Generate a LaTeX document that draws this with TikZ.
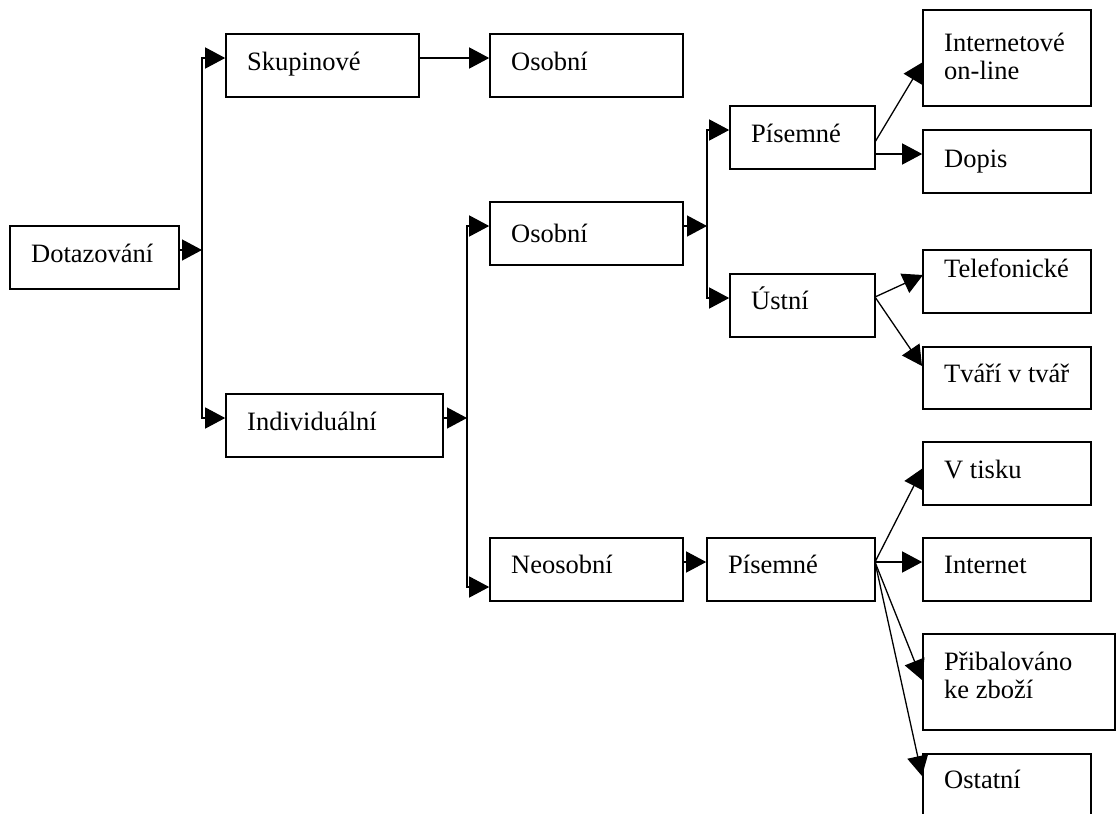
\documentclass[tikz,border=0pt]{standalone}
\usepackage{fontspec}
\setmainfont{Liberation Serif}
\usetikzlibrary{arrows.meta}

\begin{document}
\begin{tikzpicture}[x=1pt,y=-1pt,
  box/.style={draw, line width=1.6pt, inner sep=0pt, minimum height=63pt},
  lbl/.style={anchor=base west, inner sep=0pt, align=left,
              font=\fontsize{26.5}{28}\selectfont},
  link/.style={line width=1.3pt, line join=miter},
  arr/.style={link, -{Triangle[length=20pt,width=21pt]}},
]
\useasboundingbox (0,0) rectangle (1117,814);
\clip (0,0) rectangle (1117,814);

% boxes
\node[box, minimum width=169pt] (dot)   at (94.5,257.5) {};
\node[box, minimum width=193pt] (skup)  at (322.5,65.5) {};
\node[box, minimum width=217pt] (ind)   at (334.5,425.5) {};
\node[box, minimum width=193pt] (os1)   at (586.5,65.5) {};
\node[box, minimum width=193pt] (os2)   at (586.5,233.5) {};
\node[box, minimum width=193pt] (neos)  at (586.5,569.5) {};
\node[box, minimum width=145pt] (pis1)  at (802.5,137.5) {};
\node[box, minimum width=145pt] (ust)   at (802.5,305.5) {};
\node[box, minimum width=168pt] (pis2)  at (791,569.5) {};
\node[box, minimum width=168pt, minimum height=96pt] (inet1) at (1007,58) {};
\node[box, minimum width=168pt] (dopis) at (1007,161.5) {};
\node[box, minimum width=168pt] (tel)   at (1007,281.5) {};
\node[box, minimum width=168pt, minimum height=62pt] (tvar) at (1007,378) {};
\node[box, minimum width=168pt] (tisk)  at (1007,473.5) {};
\node[box, minimum width=168pt] (inet2) at (1007,569.5) {};
\node[box, minimum width=192pt, minimum height=96pt] (prib) at (1019,682) {};
\node[box, minimum width=168pt] (ost)   at (1007,785.5) {};

% labels (two-line labels are anchored on their last baseline)
\node[lbl] (tdot)   at (31,262)  {Dotazování};
\node[lbl] (tskup)  at (247,70)  {Skupinové};
\node[lbl] (tind)   at (247,430) {Individuální};
\node[lbl] (tos1)   at (511,70)  {Osobní};
\node[lbl] (tos2)   at (511,242) {Osobní};
\node[lbl] (tneos)  at (511,573) {Neosobní};
\node[lbl] (tpis1)  at (751,142) {Písemné};
\node[lbl] (tust)   at (751,309) {Ústní};
\node[lbl] (tpis2)  at (728,573) {Písemné};
\node[lbl] (tinet1) at (944,79)  {Internetové\\on-line};
\node[lbl] (tdopis) at (944,167) {Dopis};
\node[lbl] (ttel)   at (944,277) {Telefonické};
\node[lbl] (ttvar)  at (944,382) {Tváří v tvář};
\node[lbl] (ttisk)  at (944,478) {V tisku};
\node[lbl] (tinet2) at (944,573) {Internet};
\node[lbl] (tprib)  at (944,698) {Přibalováno\\ke zboží};
\node[lbl] (tost)   at (944,788) {Ostatní};

% branch points
\coordinate (aTop) at (202,58);
\coordinate (aMid) at (202,250);
\coordinate (aBot) at (202,418);
\coordinate (bTop) at (467,226);
\coordinate (bMid) at (467,418);
\coordinate (bBot) at (467,587);
\coordinate (cTop) at (707,130);
\coordinate (cMid) at (707,226);
\coordinate (cBot) at (707,298);
\coordinate (p1a)  at (875,142);
\coordinate (p1b)  at (875,154);
\coordinate (uo)   at (875,297);
\coordinate (p2o)  at (875,562);
\coordinate (tipInet1) at (923,62);
\coordinate (tipTel)   at (923,275);
\coordinate (tipTvar)  at (922,366);
\coordinate (tipTisk)  at (923,468);
\coordinate (tipPrib)  at (922,680);
\coordinate (tipOst)   at (922,776);

% connectors
\draw[arr] (dot.east |- aMid) -- (aMid);
\draw[arr] (aMid) -- (aTop) -- (skup.west |- aTop);
\draw[arr] (aMid) -- (aBot) -- (ind.west |- aBot);
\draw[arr] (skup.east |- aTop) -- (os1.west |- aTop);

\draw[arr] (ind.east |- bMid) -- (bMid);
\draw[arr] (bMid) -- (bTop) -- (os2.west |- bTop);
\draw[arr] (bMid) -- (bBot) -- (neos.west |- bBot);

\draw[arr] (os2.east |- cMid) -- (cMid);
\draw[arr] (cMid) -- (cTop) -- (pis1.west |- cTop);
\draw[arr] (cMid) -- (cBot) -- (ust.west |- cBot);
\draw[arr] (neos.east |- p2o) -- (pis2.west |- p2o);

\draw[arr] (p1a) -- (tipInet1);
\draw[arr] (p1b) -- (dopis.west |- p1b);
\draw[arr] (uo) -- (tipTel);
\draw[arr] (uo) -- (tipTvar);
\draw[arr] (p2o) -- (tipTisk);
\draw[arr] (p2o) -- (inet2.west |- p2o);
\draw[arr] (p2o) -- (tipPrib);
\draw[arr] (p2o) -- (tipOst);
\end{tikzpicture}
\end{document}
